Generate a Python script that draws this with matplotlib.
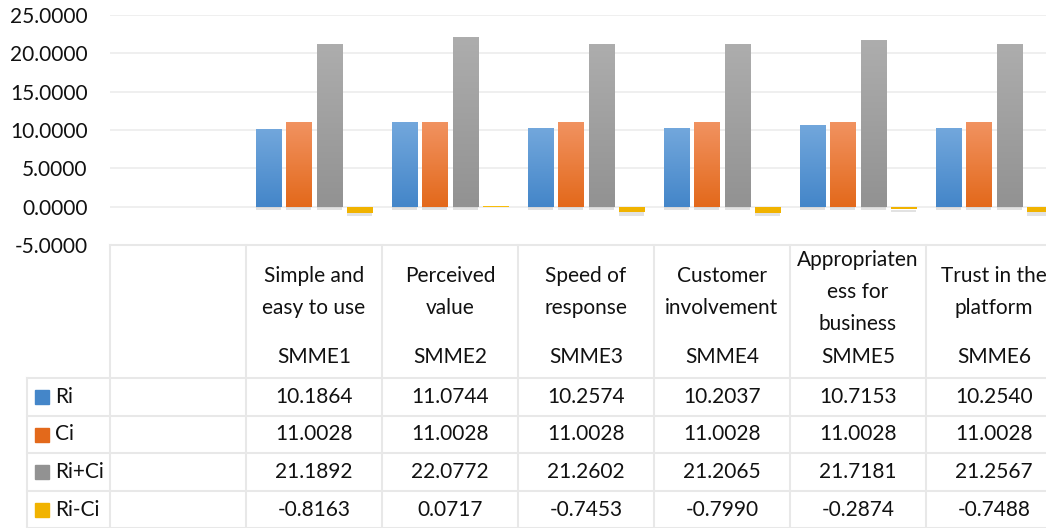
import numpy as np
import matplotlib.pyplot as plt
import matplotlib.transforms as mtransforms
from matplotlib.colors import LinearSegmentedColormap
from matplotlib import patheffects as pe

plt.rcParams['font.family'] = ['Lato', 'DejaVu Sans']

# data
cats = ['', 'SMME1', 'SMME2', 'SMME3', 'SMME4', 'SMME5', 'SMME6']
cat_names = ['', 'Simple and\neasy to use', 'Perceived\nvalue', 'Speed of\nresponse',
             'Customer\ninvolvement', 'Appropriaten\ness for\nbusiness', 'Trust in the\nplatform']
series = ['Ri', 'Ci', 'Ri+Ci', 'Ri-Ci']
ri = [np.nan, 10.1864, 11.0744, 10.2574, 10.2037, 10.7153, 10.2540]
ci = [np.nan, 11.0028, 11.0028, 11.0028, 11.0028, 11.0028, 11.0028]
ri_plus_ci = [np.nan, 21.1892, 22.0772, 21.2602, 21.2065, 21.7181, 21.2567]
ri_minus_ci = [np.nan, -0.8163, 0.0717, -0.7453, -0.7990, -0.2874, -0.7488]
values = [ri, ci, ri_plus_ci, ri_minus_ci]

# top / bottom colours of the gradient fill
grad = [('#72a7dc', '#4486c9'), ('#f19260', '#e3691b'),
        ('#adadad', '#929292'), ('#ffc819', '#f1b300')]

W, H = 1046, 528
fig = plt.figure(figsize=(W / 100, H / 100), dpi=100)
ax = fig.add_axes([110 / W, (H - 245) / H, 952 / W, 230 / H])

x = np.arange(len(cats))
bw = 0.185
step = 0.222
for i, (vals, (ctop, cbot)) in enumerate(zip(values, grad)):
    off = (i - 1.5) * step
    bars = ax.bar(x + off, vals, width=bw, color=cbot, zorder=3,
                  path_effects=[pe.SimplePatchShadow(offset=(0, -2.5), shadow_rgbFace='#7f7f7f', alpha=0.22),
                                pe.Normal()])
    cmap = LinearSegmentedColormap.from_list('g%d' % i, [cbot, ctop])
    for b in bars:
        h = b.get_height()
        if np.isnan(h):
            continue
        x0 = b.get_x()
        y0, y1 = (0, h) if h >= 0 else (h, 0)
        g = np.linspace(0, 1, 64).reshape(-1, 1)
        if h < 0:
            g = g * 0 + 0.5
        im = ax.imshow(g, extent=[x0, x0 + bw, y0, y1], origin='lower', aspect='auto',
                       cmap=cmap, zorder=4, interpolation='bilinear')
        im.set_clip_path(b)

ax.set_xlim(-0.5, len(cats) - 0.5)
ax.set_ylim(-5, 25)
ax.set_yticks(np.arange(-5, 26, 5))
ax.set_yticklabels(['%.4f' % v for v in np.arange(-5, 26, 5)], fontsize=15, color='#111111')
ax.set_xticks([])
ax.yaxis.grid(True, color='#ececec', lw=1.2, zorder=0)
ax.tick_params(axis='y', length=0, pad=16)
for s in ax.spines.values():
    s.set_visible(False)

# data table below the plot
tr = mtransforms.blended_transform_factory(ax.transData, fig.transFigure)
def fy(py):
    return 1 - py / H

line_c = '#e8e8e8'
edges = np.arange(len(cats) + 1) - 0.5
row_y = [245, 378, 416, 453, 491, 528]
fig.add_artist(plt.Line2D([110 / W, 1], [fy(245)] * 2, color=line_c, lw=1.5))
for yy in row_y[1:]:
    fig.add_artist(plt.Line2D([27 / W, 1], [fy(yy)] * 2, color=line_c, lw=1.5))
fig.add_artist(plt.Line2D([27 / W] * 2, [fy(378), fy(528)], color=line_c, lw=1.5))
for e in edges:
    ax.add_artist(plt.Line2D([e, e], [fy(245), fy(528)], color=line_c, lw=1.5,
                             transform=tr, clip_on=False))

fs = 15
for j, c in enumerate(cats):
    if not c:
        continue
    ax.text(j, fy(292), cat_names[j], transform=tr, ha='center', va='center',
            fontsize=fs, linespacing=1.75, color='#111111')
    ax.text(j, fy(357), c, transform=tr, ha='center', va='center', fontsize=fs, color='#111111')
    for r, vals in enumerate(values):
        yc = (row_y[r + 1] + row_y[r + 2]) / 2
        ax.text(j, fy(yc), '%.4f' % vals[j], transform=tr, ha='center', va='center',
                fontsize=fs, color='#111111')

for r, (name, (ctop, cbot)) in enumerate(zip(series, grad)):
    yc = (row_y[r + 1] + row_y[r + 2]) / 2
    fig.add_artist(plt.Rectangle((35 / W, fy(yc + 7)), 14 / W, 14 / H, color=cbot,
                                 transform=fig.transFigure))
    fig.text(55 / W, fy(yc), name, ha='left', va='center', fontsize=fs, color='#111111')

fig.savefig('out.png', dpi=100)
